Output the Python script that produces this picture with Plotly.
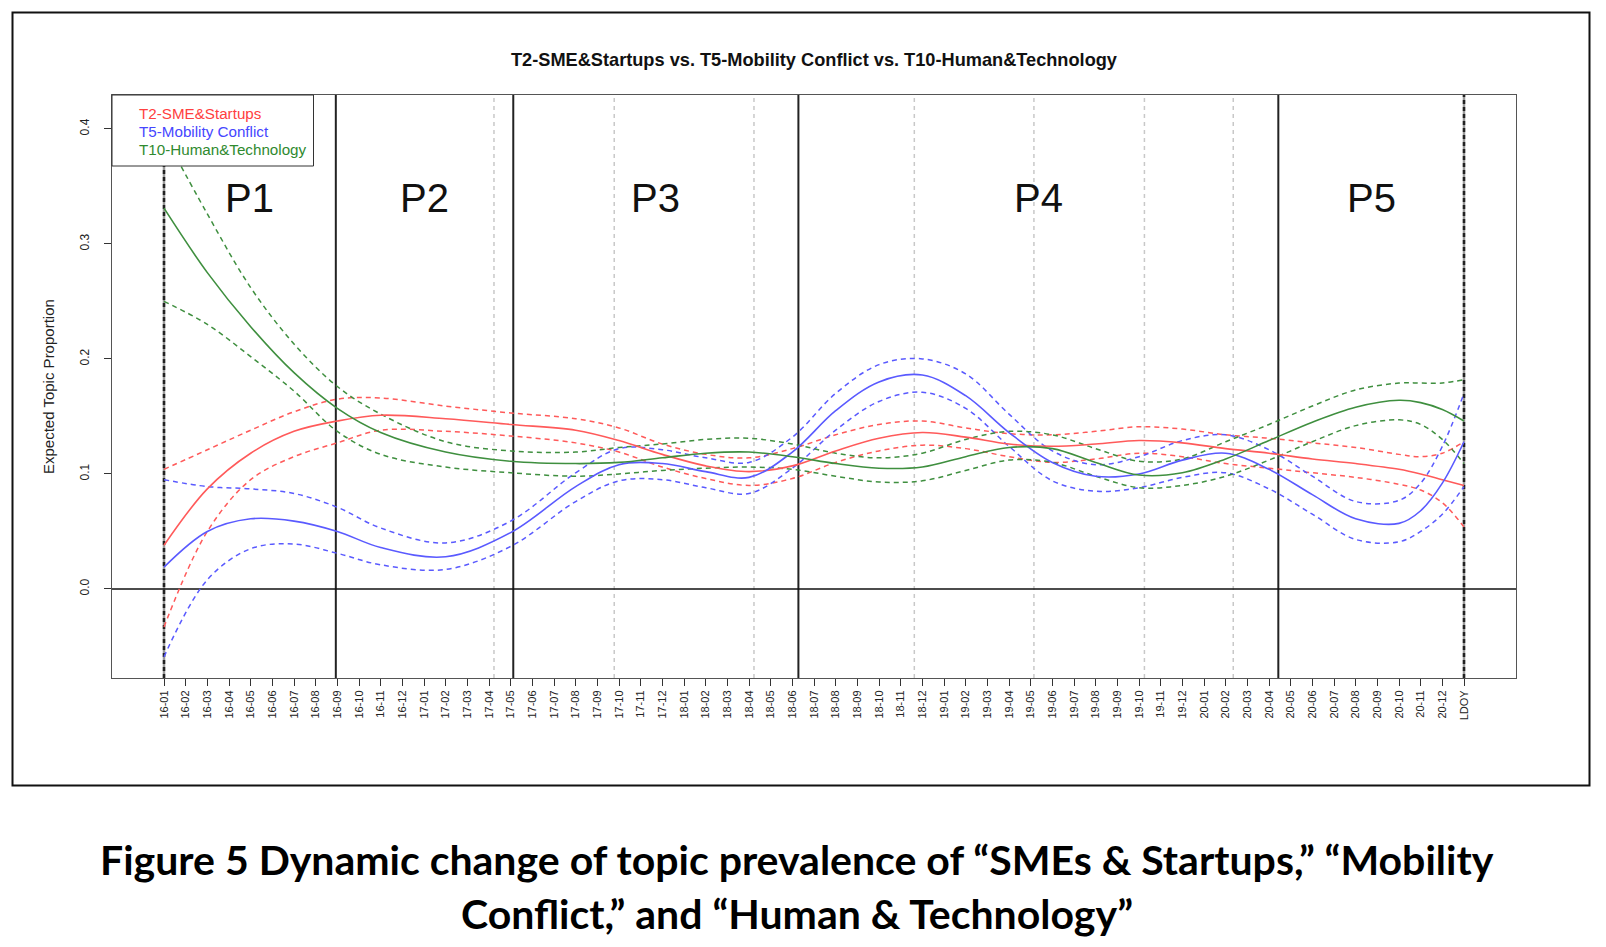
import plotly.graph_objects as go

# ---------------- data ----------------
MONTHS = ["16-01","16-02","16-03","16-04","16-05","16-06","16-07","16-08","16-09","16-10","16-11","16-12",
          "17-01","17-02","17-03","17-04","17-05","17-06","17-07","17-08","17-09","17-10","17-11","17-12",
          "18-01","18-02","18-03","18-04","18-05","18-06","18-07","18-08","18-09","18-10","18-11","18-12",
          "19-01","19-02","19-03","19-04","19-05","19-06","19-07","19-08","19-09","19-10","19-11","19-12",
          "20-01","20-02","20-03","20-04","20-05","20-06","20-07","20-08","20-09","20-10","20-11","20-12",
          "LDOY"]
TICK_POS = list(range(len(MONTHS)))

X_IDX = [0, 2, 4, 6, 8, 10, 13, 16, 19, 21, 23, 25, 27, 29, 31, 33, 35, 37, 39, 41, 43, 45, 47, 49, 51, 53, 55, 57, 58, 59, 60]

T2_MEAN = [0.038, 0.087, 0.118, 0.137, 0.146, 0.151, 0.148, 0.143, 0.138, 0.129, 0.117, 0.107, 0.102, 0.107, 0.120, 0.131,
           0.136, 0.132, 0.126, 0.124, 0.126, 0.129, 0.127, 0.122, 0.118, 0.113, 0.109, 0.104, 0.100, 0.095, 0.090]
T2_UP = [0.104, 0.121, 0.138, 0.154, 0.165, 0.166, 0.159, 0.153, 0.148, 0.140, 0.126, 0.117, 0.114, 0.122, 0.134, 0.143,
         0.146, 0.140, 0.135, 0.134, 0.137, 0.141, 0.139, 0.134, 0.131, 0.127, 0.123, 0.117, 0.115, 0.118, 0.128]
T2_LO = [-0.033, 0.050, 0.095, 0.115, 0.127, 0.138, 0.137, 0.133, 0.127, 0.119, 0.106, 0.096, 0.090, 0.096, 0.110, 0.120,
         0.125, 0.122, 0.115, 0.110, 0.113, 0.118, 0.115, 0.109, 0.105, 0.101, 0.097, 0.091, 0.086, 0.075, 0.054]

T5_MEAN = [0.019, 0.050, 0.061, 0.059, 0.050, 0.036, 0.028, 0.049, 0.089, 0.108, 0.109, 0.102, 0.097, 0.119, 0.155, 0.180,
           0.186, 0.168, 0.136, 0.110, 0.098, 0.100, 0.112, 0.118, 0.104, 0.082, 0.061, 0.057, 0.068, 0.092, 0.128]
T5_UP = [0.095, 0.089, 0.087, 0.083, 0.071, 0.053, 0.040, 0.059, 0.101, 0.122, 0.121, 0.114, 0.110, 0.132, 0.170, 0.195,
         0.200, 0.187, 0.152, 0.120, 0.108, 0.115, 0.129, 0.134, 0.121, 0.098, 0.076, 0.077, 0.092, 0.124, 0.170]
T5_LO = [-0.059, 0.008, 0.035, 0.039, 0.031, 0.021, 0.017, 0.037, 0.076, 0.094, 0.095, 0.088, 0.083, 0.105, 0.138, 0.163,
         0.171, 0.157, 0.124, 0.094, 0.085, 0.088, 0.097, 0.101, 0.087, 0.065, 0.043, 0.041, 0.050, 0.065, 0.089]

T10_MEAN = [0.331, 0.275, 0.228, 0.188, 0.157, 0.136, 0.119, 0.111, 0.109, 0.110, 0.114, 0.118, 0.119, 0.115, 0.109, 0.105,
            0.106, 0.115, 0.123, 0.122, 0.110, 0.099, 0.101, 0.113, 0.129, 0.145, 0.158, 0.164, 0.162, 0.156, 0.146]
T10_UP = [0.395, 0.326, 0.262, 0.213, 0.176, 0.152, 0.128, 0.120, 0.119, 0.123, 0.126, 0.130, 0.131, 0.126, 0.118, 0.114,
          0.118, 0.130, 0.137, 0.134, 0.122, 0.111, 0.113, 0.128, 0.143, 0.159, 0.173, 0.179, 0.179, 0.179, 0.182]
T10_LO = [0.250, 0.230, 0.202, 0.172, 0.137, 0.117, 0.106, 0.101, 0.098, 0.100, 0.103, 0.105, 0.106, 0.104, 0.098, 0.093,
          0.094, 0.103, 0.112, 0.110, 0.098, 0.088, 0.090, 0.098, 0.112, 0.128, 0.142, 0.147, 0.143, 0.130, 0.109]

SERIES_NAMES = ["T2-SME&Startups", "T5-Mobility Conflict", "T10-Human&Technology"]

PERIOD_LABELS = ["P1", "P2", "P3", "P4", "P5"]
PERIOD_BOUNDS = [0, 7.93, 16.12, 29.28, 51.43, 60]
GRAY_LINES = [15.23, 20.78, 27.23, 34.63, 40.15, 45.25, 49.35]
Y_TICKS = [0.0, 0.1, 0.2, 0.3, 0.4]
Y_TICK_TEXT = ["0.0", "0.1", "0.2", "0.3", "0.4"]

TITLE = "T2-SME&Startups vs. T5-Mobility Conflict vs. T10-Human&Technology"
Y_TITLE = "Expected Topic Proportion"
CAPTION_1 = "Figure 5 Dynamic change of topic prevalence of “SMEs & Startups,” “Mobility"
CAPTION_2 = "Conflict,” and “Human & Technology”"

# ---------------- layout geometry ----------------
W, H = 1606, 947
ML, MR, MT, MB = 112, 90, 95, 269
PW, PH = W - ML - MR, H - MT - MB


def fx(p):
    return (p - ML) / PW


def fy(p):
    return (H - MB - p) / PH


FONT = "Liberation Sans, Arial, sans-serif"
COL = {"red": "#FF5A5A", "blue": "#5A5AFF", "green": "#3F8F3F"}
TXT = {"red": "#FF4040", "blue": "#4646FF", "green": "#2F8A2F"}

fig = go.Figure()

groups = [
    (T2_MEAN, T2_UP, T2_LO, "red"),
    (T5_MEAN, T5_UP, T5_LO, "blue"),
    (T10_MEAN, T10_UP, T10_LO, "green"),
]
for (mean, up, lo, c), name in zip(groups, SERIES_NAMES):
    for band in (up, lo):
        fig.add_trace(go.Scatter(x=X_IDX, y=band, mode="lines", name=name, showlegend=False,
                                 line=dict(color=COL[c], width=1.5, dash="5px,4px", shape="spline", smoothing=1.0),
                                 hoverinfo="skip"))
for (mean, up, lo, c), name in zip(groups, SERIES_NAMES):
    fig.add_trace(go.Scatter(x=X_IDX, y=mean, mode="lines", name=name, showlegend=False,
                             line=dict(color=COL[c], width=1.6, shape="spline", smoothing=1.0)))

shapes = []
for g in GRAY_LINES:
    shapes.append(dict(type="line", xref="x", yref="y domain", x0=g, x1=g, y0=0, y1=1,
                       line=dict(color="#c8c8c8", width=1.5, dash="4px,4px"), layer="below"))
for i, b in enumerate(PERIOD_BOUNDS):
    if i == 0 or i == len(PERIOD_BOUNDS) - 1:
        shapes.append(dict(type="line", xref="x", yref="y domain", x0=b, x1=b, y0=0, y1=1,
                           line=dict(color="#9a9a9a", width=2.5), layer="below"))
        shapes.append(dict(type="line", xref="x", yref="y domain", x0=b, x1=b, y0=0, y1=1,
                           line=dict(color="#222222", width=2.5, dash="4px,3px"), layer="below"))
    else:
        shapes.append(dict(type="line", xref="x", yref="y domain", x0=b, x1=b, y0=0, y1=1,
                           line=dict(color="#222222", width=2), layer="below"))
# zero line
shapes.append(dict(type="line", xref="x domain", yref="y", x0=0, x1=1, y0=0, y1=0,
                   line=dict(color="#111111", width=1.6), layer="below"))
# legend box
shapes.append(dict(type="rect", xref="paper", yref="paper", x0=fx(112), x1=fx(313.5), y0=fy(166), y1=fy(95),
                   fillcolor="white", line=dict(color="#333333", width=1), layer="above"))
# outer frame
shapes.append(dict(type="rect", xref="paper", yref="paper", x0=fx(12.5), x1=fx(1589.5), y0=fy(785.5), y1=fy(12.5),
                   fillcolor="rgba(0,0,0,0)", line=dict(color="#111111", width=2), layer="above"))

annotations = []
for i, lab in enumerate(PERIOD_LABELS):
    xm = (PERIOD_BOUNDS[i] + PERIOD_BOUNDS[i + 1]) / 2
    annotations.append(dict(x=xm, y=0.34, xref="x", yref="y", text=lab, showarrow=False,
                            font=dict(family=FONT, size=40, color="#111111"), xanchor="center", yanchor="middle"))

leg_y = [113.7, 131.2, 149.5]
for name, c, yy in zip(SERIES_NAMES, ["red", "blue", "green"], leg_y):
    annotations.append(dict(x=fx(136.5), y=fy(yy), xref="paper", yref="paper", text=name, showarrow=False,
                            font=dict(family=FONT, size=15.2, color=TXT[c]), xanchor="left", yanchor="middle"))

annotations.append(dict(x=fx(814), y=fy(59.5), xref="paper", yref="paper", text="<b>" + TITLE + "</b>",
                        showarrow=False, font=dict(family=FONT, size=18.2, color="#111111"),
                        xanchor="center", yanchor="middle"))
annotations.append(dict(x=fx(48), y=fy(387), xref="paper", yref="paper", text=Y_TITLE, textangle=-90,
                        showarrow=False, font=dict(family=FONT, size=15, color="#222222"),
                        xanchor="center", yanchor="middle"))
annotations.append(dict(x=fx(797), y=fy(860), xref="paper", yref="paper", text="<b>" + CAPTION_1 + "</b>",
                        showarrow=False, font=dict(family="Lato, sans-serif", size=41, color="#000000"),
                        xanchor="center", yanchor="middle"))
annotations.append(dict(x=fx(797), y=fy(913.5), xref="paper", yref="paper", text="<b>" + CAPTION_2 + "</b>",
                        showarrow=False, font=dict(family="Lato, sans-serif", size=41, color="#000000"),
                        xanchor="center", yanchor="middle"))

fig.update_layout(
    width=W, height=H, autosize=False,
    margin=dict(l=ML, r=MR, t=MT, b=MB, pad=0),
    paper_bgcolor="white", plot_bgcolor="white",
    showlegend=False,
    shapes=shapes, annotations=annotations,
    xaxis=dict(range=[-2.4, 62.4], tickmode="array", tickvals=TICK_POS, ticktext=MONTHS, tickangle=-90,
               ticks="outside", ticklen=7, tickwidth=1, tickcolor="#333333",
               showline=True, mirror=True, linecolor="#555555", linewidth=1,
               showgrid=False, zeroline=False, tickfont=dict(family=FONT, size=11, color="#222222")),
    yaxis=dict(range=[-0.0774, 0.4294], tickmode="array", tickvals=Y_TICKS, ticktext=Y_TICK_TEXT, tickangle=-90,
               ticks="outside", ticklen=7, tickwidth=1, tickcolor="#333333",
               showline=True, mirror=True, linecolor="#555555", linewidth=1,
               showgrid=False, zeroline=False, ticklabelstandoff=10,
               tickfont=dict(family=FONT, size=12, color="#222222")),
)

fig.write_html("out.html", config={"displayModeBar": False},
               post_script="document.body.style.margin='0';document.body.style.overflow='hidden';")
